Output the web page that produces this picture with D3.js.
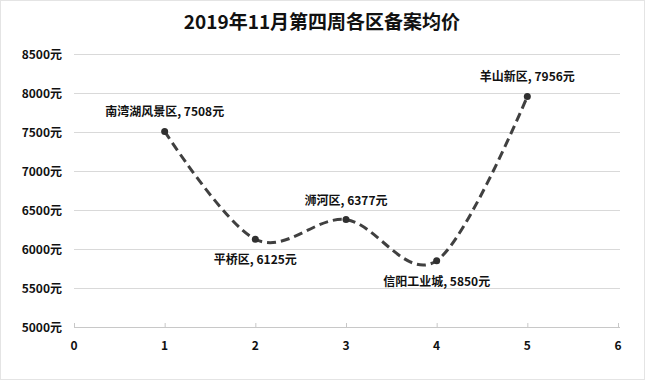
<!DOCTYPE html>
<html><head><meta charset="utf-8">
<script src="https://cdn.jsdelivr.net/npm/d3@7"></script>
<style>body{margin:0;background:#fff}svg{display:block}</style>
</head><body>
<script>
const districts = ["南湾湖风景区","平桥区","浉河区","信阳工业城","羊山新区"];
const xs = [1,2,3,4,5];
const prices = [7508,6125,6377,5850,7956];
const labelPos = ["above","below","above","below","above"];
const yTicks = [5000,5500,6000,6500,7000,7500,8000,8500];
const xTicks = [0,1,2,3,4,5,6];
const title = "2019年11月第四周各区备案均价";

const W=645,H=380;
const font = "'Noto Sans CJK SC','Microsoft YaHei',sans-serif";
const svg = d3.select("body").append("svg").attr("width",W).attr("height",H);
svg.append("rect").attr("x",0.5).attr("y",0.5).attr("width",W-1).attr("height",H-1).attr("fill","#fff").attr("stroke","#e4e4e4");

const x = d3.scaleLinear().domain([0,6]).range([74,618]);
const y = d3.scaleLinear().domain([5000,8500]).range([327,54]);

svg.append("text").attr("x",322).attr("y",29).attr("text-anchor","middle")
  .attr("font-family",font).attr("font-weight","bold").attr("font-size",19).attr("fill","#111").text(title);

// gridlines
svg.append("g").selectAll("line").data(yTicks).join("line")
  .attr("x1",74).attr("x2",620).attr("y1",d=>y(d)+0.5).attr("y2",d=>y(d)+0.5)
  .attr("stroke",d=>d===5000?"#c8c8c8":"#d9d9d9").attr("stroke-width",1);

// y labels
svg.append("g").selectAll("text").data(yTicks).join("text")
  .attr("x",62).attr("y",d=>y(d)+5).attr("text-anchor","end")
  .attr("font-family",font).attr("font-weight","bold").attr("font-size",12).attr("fill","#111")
  .text(d=>d+"元");

// x ticks
svg.append("g").selectAll("line").data(xTicks).join("line")
  .attr("x1",d=>x(d)+0.5).attr("x2",d=>x(d)+0.5).attr("y1",y(5000)).attr("y2",y(5000)-4)
  .attr("stroke","#c8c8c8");
svg.append("g").selectAll("text").data(xTicks).join("text")
  .attr("x",d=>x(d)).attr("y",350).attr("text-anchor","middle")
  .attr("font-family",font).attr("font-weight","bold").attr("font-size",12).attr("fill","#111")
  .text(d=>d);

const pts = xs.map((v,i)=>({x:v,y:prices[i],name:districts[i],pos:labelPos[i]}));
const line = d3.line().x(d=>x(d.x)).y(d=>y(d.y)).curve(d3.curveCardinal.tension(0));
svg.append("path").datum(pts).attr("d",line).attr("fill","none")
  .attr("stroke","#404040").attr("stroke-width",3).attr("stroke-dasharray","9,5");

svg.append("g").selectAll("circle").data(pts).join("circle")
  .attr("cx",d=>x(d.x)).attr("cy",d=>y(d.y)).attr("r",3.5).attr("fill","#303030");

svg.append("g").selectAll("text").data(pts).join("text")
  .attr("x",d=>x(d.x)).attr("y",d=>y(d.y)+(d.pos==="above"?-15:25)).attr("text-anchor","middle")
  .attr("font-family",font).attr("font-weight","bold").attr("font-size",12).attr("fill","#111")
  .text(d=>d.name+", "+d.y+"元");
</script>
</body></html>
